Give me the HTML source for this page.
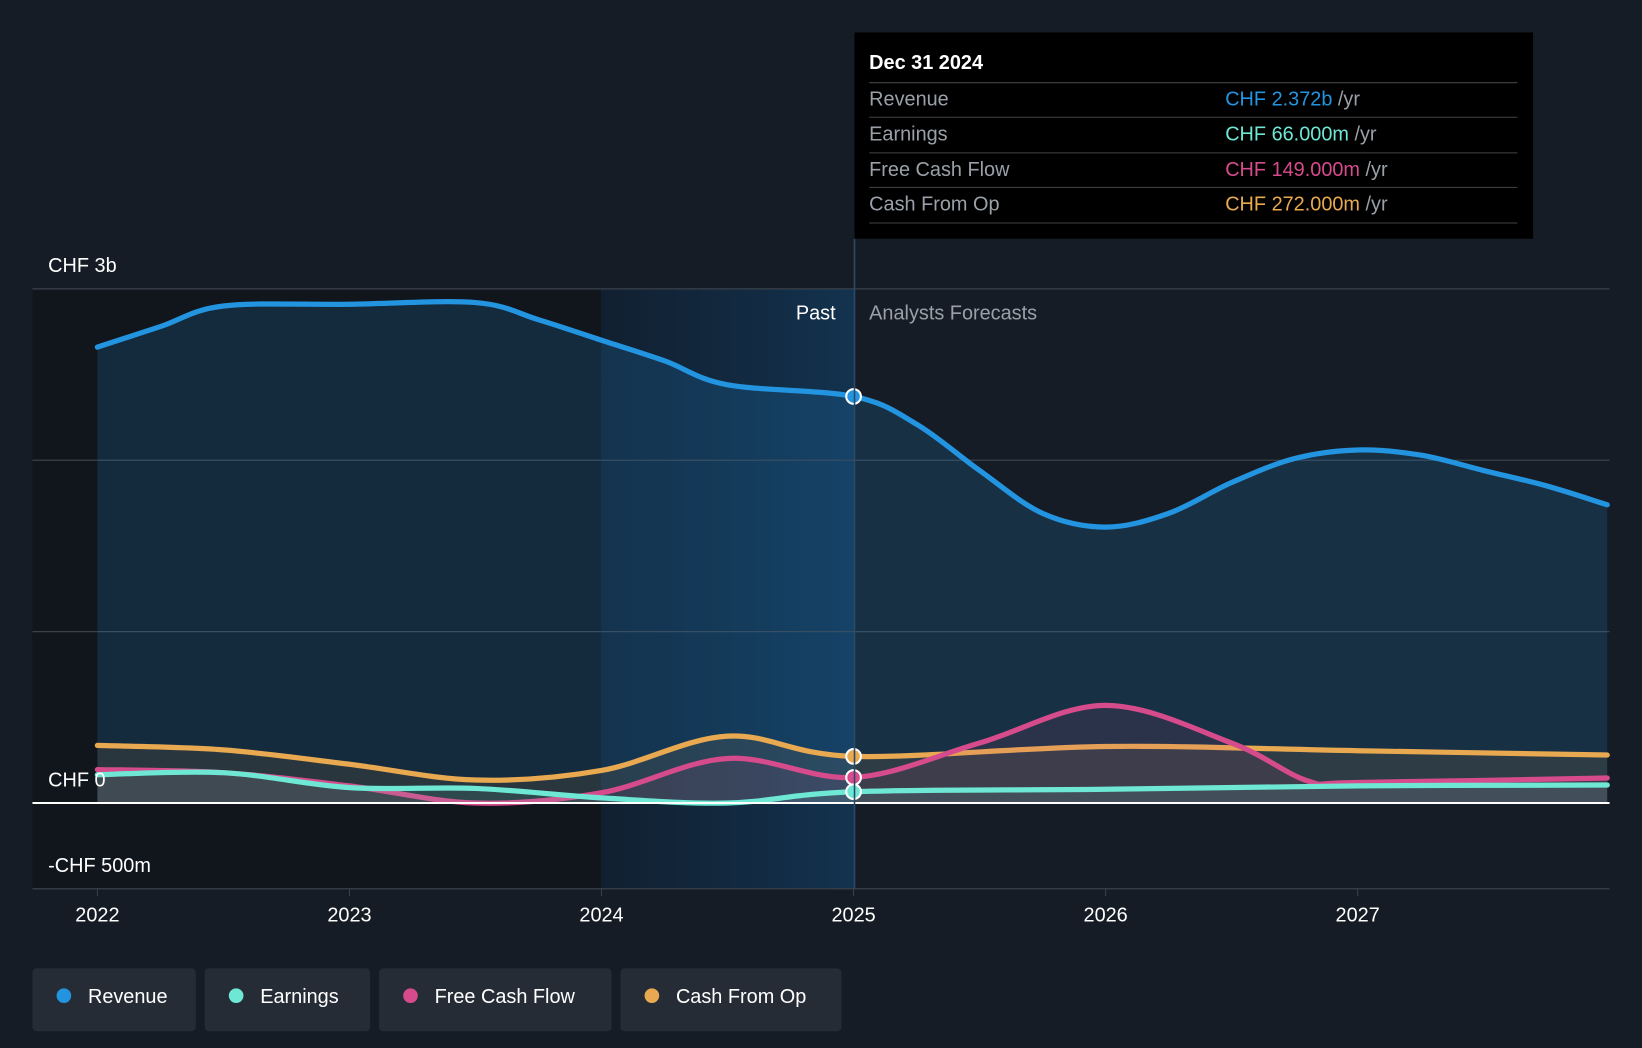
<!DOCTYPE html>
<html><head><meta charset="utf-8"><style>
html,body{margin:0;padding:0;background:#161c25;}
svg{display:block;font-family:"Liberation Sans",sans-serif;}
</style></head><body>
<svg id="chart" width="1642" height="1048" viewBox="0 0 1568 1001" preserveAspectRatio="none" xmlns="http://www.w3.org/2000/svg">
<defs>
<linearGradient id="pastBlue" x1="0" x2="1" y1="0" y2="0"><stop offset="0" stop-color="#0f2236" stop-opacity="0.7"/><stop offset="1" stop-color="#133554" stop-opacity="0.9"/></linearGradient>
</defs>
<rect width="1568" height="1001" fill="#161c25"/>
<rect x="31" y="276" width="543" height="573" fill="#11151c"/>
<rect x="574" y="276" width="242" height="573" fill="url(#pastBlue)"/>
<g id="grid"></g>
<g id="series"></g>
<g id="axes"></g>
<text x="798" y="305" fill="#fff" font-size="19" text-anchor="end">Past</text>
<text x="830" y="305" fill="#9aa0a8" font-size="19">Analysts Forecasts</text>
<line x1="816" y1="228" x2="816" y2="849" stroke="#2c4a66" stroke-width="1.5"/>
<g>
<rect x="816" y="31" width="648" height="197" fill="#000"/>
<text x="830" y="66" fill="#fff" font-size="19" font-weight="bold">Dec 31 2024</text>
<line x1="830" y1="79" x2="1449" y2="79" stroke="#444"/>
<text x="830" y="101" fill="#9aa0a8" font-size="19">Revenue</text>
<text x="1170" y="101" font-size="19"><tspan fill="#2394df">CHF 2.372b</tspan><tspan fill="#9aa0a8"> /yr</tspan></text>
<line x1="830" y1="112" x2="1449" y2="112" stroke="#444"/>
<text x="830" y="134" fill="#9aa0a8" font-size="19">Earnings</text>
<text x="1170" y="134" font-size="19"><tspan fill="#6ee7d4">CHF 66.000m</tspan><tspan fill="#9aa0a8"> /yr</tspan></text>
<line x1="830" y1="146" x2="1449" y2="146" stroke="#444"/>
<text x="830" y="168" fill="#9aa0a8" font-size="19">Free Cash Flow</text>
<text x="1170" y="168" font-size="19"><tspan fill="#d64b8c">CHF 149.000m</tspan><tspan fill="#9aa0a8"> /yr</tspan></text>
<line x1="830" y1="179" x2="1449" y2="179" stroke="#444"/>
<text x="830" y="201" fill="#9aa0a8" font-size="19">Cash From Op</text>
<text x="1170" y="201" font-size="19"><tspan fill="#e8a951">CHF 272.000m</tspan><tspan fill="#9aa0a8"> /yr</tspan></text>
<line x1="830" y1="213" x2="1449" y2="213" stroke="#444"/>
</g>
<g id="legend"></g>
</svg>
<script>
const xYears=[2022,2022.25,2022.5,2023,2023.5,2023.75,2024,2024.25,2024.5,2025,2025.25,2025.5,2025.75,2026,2026.25,2026.5,2026.75,2027,2027.25,2027.5,2027.75,2027.99];
const revenue=[2.66,2.78,2.90,2.91,2.92,2.82,2.70,2.58,2.44,2.372,2.21,1.94,1.69,1.61,1.69,1.87,2.01,2.06,2.03,1.94,1.85,1.74];
const cfoYears=[2022,2022.5,2023,2023.5,2024,2024.5,2025,2026,2027,2027.99];
const cashFromOp=[0.336,0.31,0.226,0.134,0.19,0.39,0.272,0.33,0.305,0.28];
const fcfYears=[2022,2022.5,2023,2023.5,2024,2024.5,2025,2025.5,2026,2026.5,2026.8,2027,2027.99];
const freeCashFlow=[0.195,0.177,0.10,0.0,0.06,0.26,0.149,0.35,0.57,0.35,0.13,0.12,0.146];
const earnYears=[2022,2022.5,2023,2023.5,2024,2024.5,2025,2026,2027,2027.99];
const earnings=[0.165,0.177,0.09,0.085,0.03,0.0,0.066,0.08,0.1,0.105];
const yTicks=[-0.5,0,1,2,3];
const yLabels={"3":"CHF 3b","0":"CHF 0","-0.5":"-CHF 500m"};
const xTicks=[2022,2023,2024,2025,2026,2027];
const legendItems=["Revenue","Earnings","Free Cash Flow","Cash From Op"];
const legendColors=["#2394df","#6ee7d4","#d64b8c","#e8a951"];

const NS="http://www.w3.org/2000/svg";
const X=y=>93+(y-2022)*240.7;
const Y=v=>767-v*163.7;
function el(t,a,p){const e=document.createElementNS(NS,t);for(const k in a)e.setAttribute(k,a[k]);p.appendChild(e);return e;}
function path(xs,vs){const p=xs.map((x,i)=>[X(x),Y(vs[i])]);let d="M"+p[0][0]+","+p[0][1];
for(let i=0;i<p.length-1;i++){const p0=p[i-1]||p[i],p1=p[i],p2=p[i+1],p3=p[i+2]||p2;
d+=` C${p1[0]+(p2[0]-p0[0])/6},${p1[1]+(p2[1]-p0[1])/6} ${p2[0]-(p3[0]-p1[0])/6},${p2[1]-(p3[1]-p1[1])/6} ${p2[0]},${p2[1]}`;}return d;}
const grid=document.getElementById('grid'),axes=document.getElementById('axes'),ser=document.getElementById('series'),leg=document.getElementById('legend');
yTicks.forEach(v=>{const l=el('line',{x1:31,x2:1537,y1:Y(v),y2:Y(v),stroke:v===0?'#fff':'#3a414b','stroke-width':v===0?2:1.2},v===0?axes:grid);

if(yLabels[String(v)]){const t=el('text',{x:46,y:Y(v)-16,fill:'#fff','font-size':19},axes);t.textContent=yLabels[String(v)];
}});
xTicks.forEach(y=>{const t=el('text',{x:X(y),y:880,fill:'#fff','font-size':19,'text-anchor':'middle'},axes);t.textContent=y;

el('line',{x1:X(y),x2:X(y),y1:849,y2:856,stroke:'#3a414b'},axes);});
const series=[[xYears,revenue,'#2394df','revenue'],[cfoYears,cashFromOp,'#e8a951','cash-from-op'],[fcfYears,freeCashFlow,'#d64b8c','free-cash-flow'],[earnYears,earnings,'#6ee7d4','earnings']];
series.forEach(([xs,vs,c,n])=>{const d=path(xs,vs);
const a=el('path',{d:d+` L${X(xs[xs.length-1])},${Y(0)} L${X(xs[0])},${Y(0)} Z`,fill:c,'fill-opacity':n==='revenue'?0.17:0.1},ser);

const l=el('path',{d:d,fill:'none',stroke:c,'stroke-width':5,'stroke-linecap':'round'},ser);

const i=xs.indexOf(2025);const m=el('circle',{cx:X(2025),cy:Y(vs[i]),r:7,fill:c,stroke:'#fff','stroke-width':2},ser);
});
const widths=[156,158,222,211];let lx=31;
legendItems.forEach((n,i)=>{const g=el('g',{},leg);
el('rect',{x:lx,y:925,width:widths[i],height:60,rx:4,fill:'#262c36'},g);
el('circle',{cx:lx+30,cy:951,r:7,fill:legendColors[i]},g);
const t=el('text',{x:lx+53,y:958,fill:'#fff','font-size':19},g);t.textContent=n;lx+=widths[i]+8.5;});
</script>
</body></html>
